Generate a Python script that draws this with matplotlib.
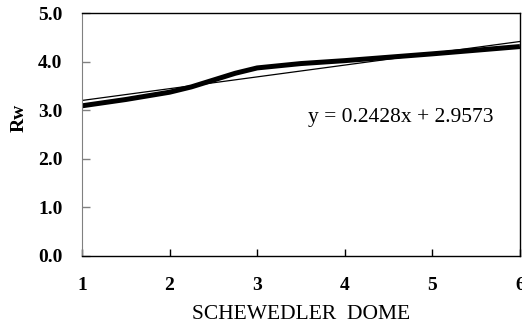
import numpy as np
import matplotlib
matplotlib.use("Agg")
import matplotlib.pyplot as plt

# values
span = [1, 1.5, 2, 2.25, 2.5, 2.75, 3, 3.5, 4, 5, 6]
rw = [3.09, 3.22, 3.37, 3.48, 3.62, 3.76, 3.87, 3.96, 4.02, 4.16, 4.31]
slope, intercept = 0.2428, 2.9573
x_ticks = [1, 2, 3, 4, 5, 6]
y_ticks = [0.0, 1.0, 2.0, 3.0, 4.0, 5.0]

plt.rcParams["font.family"] = ["Liberation Serif", "DejaVu Serif"]

fig = plt.figure(figsize=(5.22, 3.26), dpi=100)
ax = fig.add_axes([0.157, 0.215, 0.839, 0.745])

ax.plot(span, rw, color="black", lw=3.6, solid_capstyle="butt")
fit_x = np.array([x_ticks[0], x_ticks[-1]])
ax.plot(fit_x, slope * fit_x + intercept, color="black", lw=0.9)

ax.set_xlim(1, 6)
ax.set_ylim(0, 5)
ax.set_xticks(x_ticks)
ax.set_xticklabels([str(t) for t in x_ticks], fontsize=14, fontweight="bold")
ax.set_yticks(y_ticks)
ax.set_yticklabels([f"{t:.1f}" for t in y_ticks], fontsize=14, fontweight="bold")
ax.tick_params(axis="x", direction="in", length=5, width=1, pad=15)
ax.tick_params(axis="y", direction="in", length=6, width=1, color="gray", pad=14)

ax.spines["left"].set_color("gray")
for s in ["top", "right", "bottom"]:
    ax.spines[s].set_color("black")
    ax.spines[s].set_linewidth(1)

ax.set_xlabel("SCHEWEDLER  DOME", fontsize=15.5, labelpad=8)
ax.set_ylabel("Rw", fontsize=14, fontweight="bold")
ax.yaxis.set_label_coords(-0.125, 0.57)

ax.text(0.516, 0.568, f"y = {slope}x + {intercept}", transform=ax.transAxes,
        fontsize=15.5, ha="left", va="center")

fig.savefig("out.png", dpi=100)
